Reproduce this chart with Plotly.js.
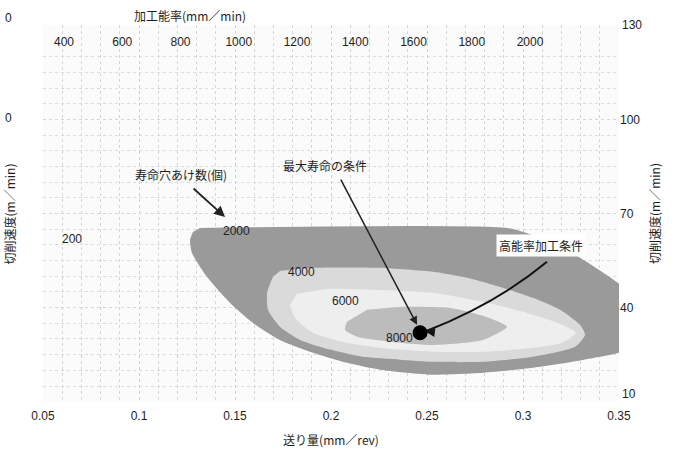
<!DOCTYPE html>
<html>
<head>
<meta charset="utf-8">
<script src="https://cdn.plot.ly/plotly-3.0.1.min.js"></script>
<style>html,body{margin:0;padding:0;background:#fff;}#chart{width:676px;height:450px;}</style>
</head>
<body>
<div id="chart"></div>
<script>
// ---- data ----
const feedTicks = [0.05, 0.1, 0.15, 0.2, 0.25, 0.3, 0.35];
const feedTickText = ['0.05', '0.1', '0.15', '0.2', '0.25', '0.3', '0.35'];
const speedTicks = [10, 40, 70, 100, 130];
const speedTickText = ['', '40', '70', '100', ''];
const rateTicks = [400, 600, 800, 1000, 1200, 1400, 1600, 1800, 2000];
const levels = [2000, 4000, 6000, 8000];

// boundaries of the tool-life regions (feed mm/rev, cutting speed m/min); the 2000 region runs past the right edge
const life2000X = [0.1318, 0.2917, 0.3065, 0.3193, 0.3333, 0.3500, 0.3600, 0.3600, 0.3500, 0.3401, 0.3229, 0.3052, 0.2792, 0.2531, 0.2255, 0.2083, 0.1906, 0.1734, 0.1594, 0.1474, 0.1354, 0.1276, 0.1266, 0.1281];
const life2000Y = [65.4, 65.4, 62.8, 59.7, 54.5, 47.6, 42.0, 28.0, 25.6, 24.3, 22.4, 20.8, 19.2, 18.6, 20.2, 22.4, 25.6, 29.7, 35.1, 41.5, 49.8, 57.4, 61.6, 64.1];
const life4000X = [0.1734, 0.1906, 0.2255, 0.2531, 0.2708, 0.2880, 0.3052, 0.3193, 0.3297, 0.3323, 0.3271, 0.3052, 0.2792, 0.2531, 0.2359, 0.2167, 0.1995, 0.1839, 0.1734, 0.1672, 0.1667, 0.1698];
const life4000Y = [51.7, 52.7, 52.7, 51.4, 49.5, 46.6, 43.1, 39.3, 34.5, 31.3, 27.5, 24.3, 22.7, 22.7, 23.4, 24.3, 26.6, 29.7, 33.9, 39.3, 44.7, 49.8];
const life6000X = [0.1823, 0.1995, 0.2255, 0.2531, 0.2708, 0.2880, 0.3052, 0.3193, 0.3276, 0.3203, 0.3052, 0.2792, 0.2531, 0.2359, 0.2255, 0.2083, 0.1906, 0.1813, 0.1786];
const life6000Y = [44.4, 46.0, 45.6, 44.7, 42.8, 40.6, 37.7, 34.8, 32.0, 28.8, 27.2, 25.9, 25.9, 26.6, 27.2, 28.8, 32.0, 36.7, 40.9];
const life8000X = [0.2188, 0.2359, 0.2620, 0.2792, 0.2917, 0.2792, 0.2531, 0.2359, 0.2135, 0.2073, 0.2083];
const life8000Y = [39.3, 40.2, 39.9, 37.4, 33.9, 29.7, 28.1, 28.8, 30.7, 32.9, 35.5];

// optimum (max life / high-efficiency) condition
const optX = [0.2464];
const optY = [32.0];

const FONT = 'Liberation Sans, Arial, Noto Sans CJK JP, sans-serif';
const JP = 'Noto Sans CJK JP, Liberation Sans, sans-serif';
const TXT = '#1e1e1e';

function region(xs, ys, color, name) {
  return {
    type: 'scatter', x: xs, y: ys, mode: 'lines', fill: 'toself',
    fillcolor: color, line: {width: 0, color: color, shape: 'spline', smoothing: 0.6},
    hoverinfo: 'skip', showlegend: false, name: name
  };
}

const traces = [
  region(life2000X, life2000Y, '#9a9a9a', String(levels[0])),
  region(life4000X, life4000Y, '#dadada', String(levels[1])),
  region(life6000X, life6000Y, '#eeeeee', String(levels[2])),
  region(life8000X, life8000Y, '#bcbcbc', String(levels[3])),
  {
    type: 'scatter', x: optX, y: optY, mode: 'markers',
    marker: {symbol: 'circle', size: 15, color: '#000', line: {width: 0}},
    hoverinfo: 'skip', showlegend: false
  },
  {
    type: 'scatter', x: rateTicks, y: rateTicks.map(() => 130), xaxis: 'x2', yaxis: 'y',
    mode: 'markers', marker: {opacity: 0}, hoverinfo: 'skip', showlegend: false
  }
];

const labelAnn = (x, y, text) => ({x: x, y: y, xref: 'x', yref: 'y', text: text, showarrow: false,
  font: {family: FONT, size: 12, color: TXT}});

const annotations = [
  labelAnn(0.1510, 64.4, String(levels[0])),
  labelAnn(0.1844, 51.4, String(levels[1])),
  labelAnn(0.2073, 42.1, String(levels[2])),
  labelAnn(0.2359, 30.4, String(levels[3])),
  labelAnn(0.0651, 61.9, '200'),
  {x: 1.0, y: 12.5, xref: 'paper', yref: 'y', text: String(speedTicks[0]), showarrow: false,
   xanchor: 'left', yanchor: 'middle', xshift: 1, font: {family: FONT, size: 12, color: TXT}},
  {x: 1.0, y: speedTicks[4], xref: 'paper', yref: 'y', text: String(speedTicks[4]), showarrow: false,
   xanchor: 'left', yanchor: 'middle', xshift: 1, font: {family: FONT, size: 12, color: TXT}},
  {x: 0.1219, y: 82.3, xref: 'x', yref: 'y', text: '寿命穴あけ数(個)', showarrow: false,
   font: {family: JP, size: 12, color: TXT}},
  {x: 0.1448, y: 68.9, xref: 'x', yref: 'y', ax: 0.1276, ay: 78.4, axref: 'x', ayref: 'y',
   text: '', showarrow: true, arrowhead: 2, arrowsize: 1.2, arrowwidth: 1.8, arrowcolor: '#222'},
  {x: 0.1969, y: 85.4, xref: 'x', yref: 'y', text: '最大寿命の条件', showarrow: false,
   font: {family: JP, size: 12, color: TXT}},
  {x: 0.2448, y: 34.5, xref: 'x', yref: 'y', ax: 0.2047, ay: 81.3, axref: 'x', ayref: 'y',
   text: '', showarrow: true, arrowhead: 2, arrowsize: 1.1, arrowwidth: 1.5, arrowcolor: '#222'},
  {x: 0.3094, y: 59.7, xref: 'x', yref: 'y', text: '高能率加工条件', showarrow: false,
   bgcolor: '#ffffff', borderpad: 2, font: {family: JP, size: 12, color: TXT}},
  {x: 0.2495, y: 32.3, xref: 'x', yref: 'y', ax: 9, ay: 1, text: '', showarrow: true,
   arrowhead: 2, arrowsize: 1.1, arrowwidth: 1.6, arrowcolor: '#111'},
  {x: -0.0573, y: 0.5, xref: 'paper', yref: 'paper', text: '切削速度(m／min)', textangle: -90,
   xanchor: 'center', yanchor: 'middle', showarrow: false, font: {family: JP, size: 12, color: TXT}},
  {x: 0.256, y: 1.0265, xref: 'paper', yref: 'paper', text: '加工能率(mm／min)', showarrow: false,
   xanchor: 'center', yanchor: 'middle', font: {family: JP, size: 12, color: TXT}},
  {x: -0.0694, y: 1.0186, xref: 'paper', yref: 'paper', text: '0', showarrow: false,
   xanchor: 'left', yanchor: 'middle', font: {family: FONT, size: 12, color: TXT}},
  {x: -0.0694, y: 0.7533, xref: 'paper', yref: 'paper', text: '0', showarrow: false,
   xanchor: 'left', yanchor: 'middle', font: {family: FONT, size: 12, color: TXT}}
];

const shapes = [
  {type: 'path', xref: 'x', yref: 'y',
   path: 'M 0.2500 32.6 Q 0.2865 41.4 0.3125 54.6',
   line: {color: '#111', width: 2}}
];

const layout = {
  width: 676, height: 450,
  margin: {l: 43, r: 57, t: 25, b: 48},
  paper_bgcolor: '#ffffff', plot_bgcolor: '#fbfbfb',
  showlegend: false,
  font: {family: FONT, size: 12, color: TXT},
  xaxis: {
    range: [0.05, 0.35], tickmode: 'array', tickvals: feedTicks, ticktext: feedTickText,
    showgrid: true, gridcolor: '#cfcfcf', griddash: 'dot', gridwidth: 1,
    minor: {tickmode: 'linear', tick0: 0.05, dtick: 0.01, showgrid: true, gridcolor: '#d6d6d6', griddash: 'dot', gridwidth: 1},
    zeroline: false, showline: false, ticks: '', ticklabelstandoff: 5,
    tickfont: {family: FONT, size: 12, color: TXT},
    title: {text: '送り量(mm／rev)', font: {family: JP, size: 12, color: TXT}, standoff: 14}
  },
  xaxis2: {
    overlaying: 'x', side: 'top', anchor: 'y', range: [327.9, 2305.6],
    tickmode: 'array', tickvals: rateTicks, ticklabelposition: 'inside', ticklabelstandoff: 10,
    showgrid: false, zeroline: false, showline: false, ticks: '',
    tickfont: {family: FONT, size: 12, color: TXT}
  },
  yaxis: {
    range: [9.9, 130.1], side: 'right', tickmode: 'array', tickvals: speedTicks, ticktext: speedTickText,
    showgrid: true, gridcolor: '#d6d6d6', griddash: 'dot', gridwidth: 1,
    minor: {tickmode: 'linear', tick0: 10, dtick: 5, showgrid: true, gridcolor: '#dcdcdc', griddash: 'dot', gridwidth: 1},
    zeroline: false, showline: false, ticks: '',
    tickfont: {family: FONT, size: 12, color: TXT},
    title: {text: '切削速度(m／min)', font: {family: JP, size: 12, color: TXT}, standoff: 12}
  },
  annotations: annotations,
  shapes: shapes
};

Plotly.newPlot('chart', traces, layout, {staticPlot: true, displayModeBar: false});
</script>
</body>
</html>
